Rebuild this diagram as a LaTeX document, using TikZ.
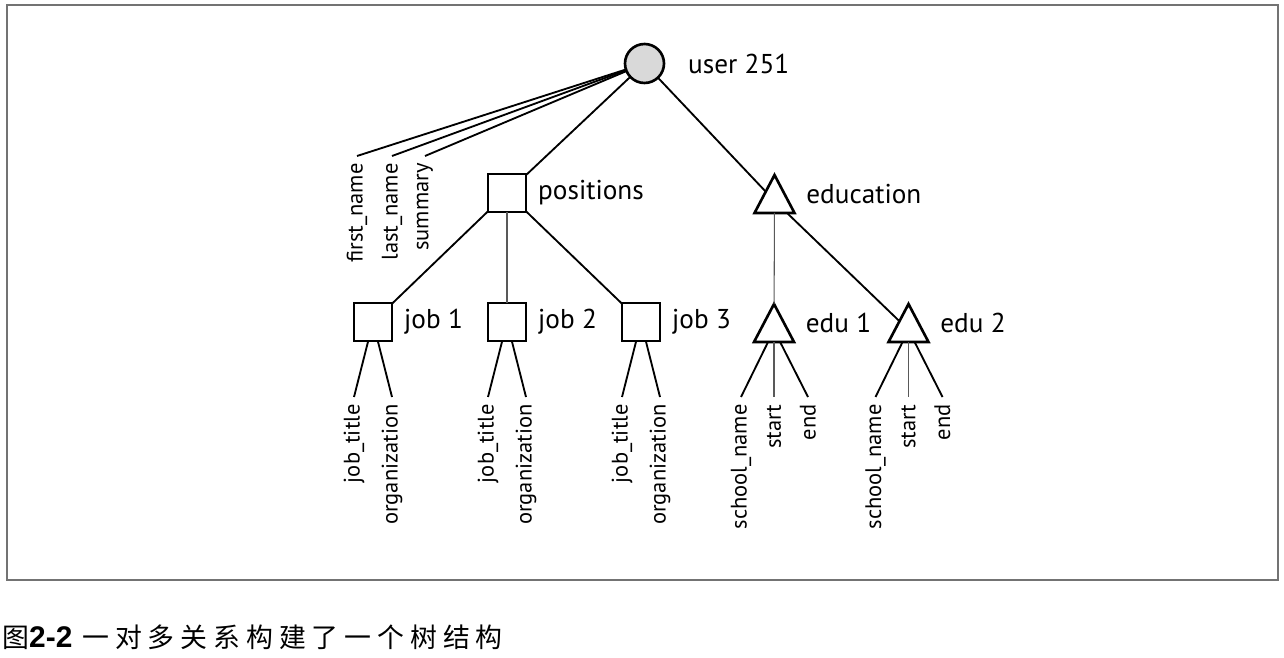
\documentclass[tikz,border=0pt]{standalone}
\usepackage{fontspec}
\setmainfont{PT Sans}
\newfontfamily\cjkfont[LetterSpace=22]{Noto Sans CJK SC}
\newfontfamily\capfont{Liberation Sans}
\usetikzlibrary{shapes.geometric}

\begin{document}
\begin{tikzpicture}[x=0.02cm, y=-0.02cm,
    obj/.style={draw, line width=1.5pt, inner sep=0pt, outer sep=0pt},
    rec/.style={obj, rectangle, minimum size=0.76cm},
    tri/.style={obj, isosceles triangle, shape border rotate=90, isosceles triangle apex angle=55.5,
                minimum width=0.76cm, minimum height=0.76cm, anchor=apex},
    lbl/.style={font=\fontsize{15.5}{18}\selectfont, label distance=0.12cm},
    tlbl/.style={lbl, label distance=0.24cm, yshift=0.13cm},
    attr/.style={rotate=90, anchor=east, inner sep=4pt, font=\fontsize{12.8}{15}\selectfont},
    link/.style={line width=1.05pt},
    faint/.style={line width=0.6pt, black!65}]
    \useasboundingbox (0,0) rectangle (1284,658);
    \draw[black!55, line width=1pt] (7,5) rectangle (1278,580);

    % root and its fields
    \node(user) at(644.5, 63.5) [obj, circle, fill=black!15, minimum size=0.78cm,
        label={[lbl, label distance=0.36cm]right:user 251}] {};
    \node(fn) at(357, 156) [attr] {first\_name};
    \node(ln) at(392, 156) [attr] {last\_name};
    \node(sm) at(425, 156) [attr] {summary};
    \draw[link] (user) -- (fn.east);
    \draw[link] (user) -- (ln.east);
    \draw[link] (user) -- (sm.east);

    \node(pos) at(507, 193) [rec, label={[lbl]right:positions}] {};
    \node(educ) at(774.5, 175) [tri, label={[tlbl]right:education}] {};
    \draw[link] (user) -- (pos);
    \draw[link] (user) -- (educ);

    % jobs
    \foreach \i/\x in {1/373, 2/507, 3/641} {
        \node(job\i) at(\x, 322) [rec, label={[lbl]right:job \i}] {};
        \node(jt\i) at(\x-19, 397) [attr] {job\_title};
        \node(org\i) at(\x+19, 397) [attr] {organization};
        \draw[link] (job\i) -- (jt\i.east);
        \draw[link] (job\i) -- (org\i.east);
    }
    \draw[link] (pos) -- (job1);
    \draw[faint] (pos) -- (job2);
    \draw[link] (pos) -- (job3);

    % schools
    \foreach \i/\x in {1/774, 2/908.5} {
        \node(edu\i) at(\x, 304) [tri, label={[tlbl]right:edu \i}] {};
        \node(sn\i) at(\x-33, 397) [attr] {school\_name};
        \node(st\i) at(\x, 397) [attr] {start};
        \node(en\i) at(\x+34, 397) [attr] {end};
        \draw[link] (edu\i) -- (sn\i.east);
        \draw[faint] (edu\i) -- (st\i.east);
        \draw[link] (edu\i) -- (en\i.east);
    }
    \draw[faint] (educ) -- (edu1);
    \draw[link] (educ) -- (edu2);

    \node(caption) at(2, 637) [anchor=west, inner sep=0pt]
        {{\fontsize{15.3}{17}\selectfont\cjkfont 图}{\fontsize{17}{19}\selectfont\capfont\bfseries 2-2}\hspace{0.2cm}{\fontsize{15.3}{17}\selectfont\cjkfont 一对多关系构建了一个树结构}};
\end{tikzpicture}
\end{document}
